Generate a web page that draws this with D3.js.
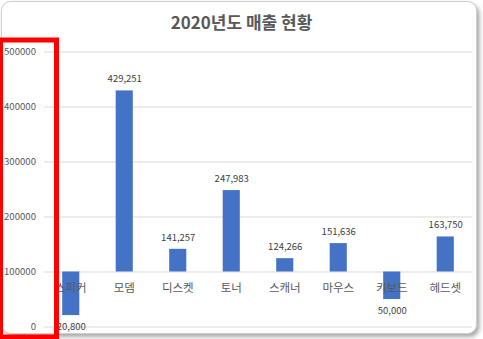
<!DOCTYPE html>
<html>
<head>
<meta charset="utf-8">
<script src="https://cdn.jsdelivr.net/npm/d3@7"></script>
<style>
  html, body { margin: 0; padding: 0; background: #ffffff; }
  svg { display: block; }
  text { font-family: "Malgun Gothic", "Noto Sans CJK KR", sans-serif; }
</style>
</head>
<body>
<svg id="chart" width="483" height="339"></svg>
<script>
// 2020 sales by product
const categories = ["스피커", "모뎀", "디스켓", "토너", "스캐너", "마우스", "키보드", "헤드셋"];
const sales = [20800, 429251, 141257, 247983, 124266, 151636, 50000, 163750];
const yTicks = [0, 100000, 200000, 300000, 400000, 500000];
const axisCross = 100000; // horizontal axis crosses the value axis here
const title = "2020년도 매출 현황";

const W = 483, H = 339;
const plot = { left: 44, right: 472, top: 51.5, bottom: 326.5 };

const svg = d3.select("#chart");

// card with soft shadow
const defs = svg.append("defs");
const f = defs.append("filter").attr("id", "shadow")
  .attr("x", "-5%").attr("y", "-5%").attr("width", "110%").attr("height", "110%");
f.append("feDropShadow").attr("dx", 2.5).attr("dy", 3).attr("stdDeviation", 2)
  .attr("flood-color", "#6e6e6e").attr("flood-opacity", 0.6);

svg.append("rect")
  .attr("x", 1.5).attr("y", 1.5).attr("width", 475).attr("height", 332)
  .attr("rx", 9).attr("ry", 9)
  .attr("fill", "#ffffff").attr("stroke", "#cfcfcf").attr("stroke-width", 1)
  .attr("filter", "url(#shadow)");

// scales
const x = d3.scaleBand()
  .domain(categories)
  .range([plot.left, plot.right])
  .paddingInner(0.68)
  .paddingOuter(0.34);

const y = d3.scaleLinear()
  .domain([0, 500000])
  .range([plot.bottom, plot.top]);

// value axis with gridlines
const yAxis = svg.append("g")
  .attr("transform", `translate(${plot.left},0)`)
  .call(d3.axisLeft(y)
    .tickValues(yTicks)
    .tickFormat(d3.format("d"))
    .tickSize(-(plot.right - plot.left))
    .tickPadding(8));
yAxis.select(".domain").remove();
yAxis.selectAll(".tick line").attr("stroke", "#d9d9d9").attr("stroke-width", 1);
yAxis.selectAll(".tick text")
  .attr("fill", "#595959")
  .style("font-size", "9.6px");

// bars grow from the crossing value
svg.append("g").selectAll("rect")
  .data(categories)
  .join("rect")
  .attr("x", (d) => x(d))
  .attr("width", x.bandwidth())
  .attr("y", (d, i) => Math.min(y(sales[i]), y(axisCross)))
  .attr("height", (d, i) => Math.abs(y(sales[i]) - y(axisCross)))
  .attr("fill", "#4472c4");

// category labels under the crossing line
svg.append("g").selectAll("text")
  .data(categories)
  .join("text")
  .attr("x", (d) => x(d) + x.bandwidth() / 2)
  .attr("y", y(axisCross) + 20)
  .attr("text-anchor", "middle")
  .attr("fill", "#595959")
  .style("font-size", "11.5px")
  .text((d) => d);

// data labels
const fmt = d3.format(",");
svg.append("g").selectAll("text")
  .data(categories)
  .join("text")
  .attr("x", (d) => x(d) + x.bandwidth() / 2 + 0.5)
  .attr("y", (d, i) => sales[i] >= axisCross ? y(sales[i]) - 8 : y(sales[i]) + 15)
  .attr("text-anchor", "middle")
  .attr("fill", "#404040")
  .style("font-size", "9.5px")
  .text((d, i) => fmt(sales[i]));

// title
svg.append("text")
  .attr("x", 241.5)
  .attr("y", 29)
  .attr("text-anchor", "middle")
  .attr("fill", "#595959")
  .style("font-size", "17px")
  .style("font-weight", "bold")
  .text(title);

// highlight box around the value axis labels
svg.append("rect")
  .attr("x", 0.5).attr("y", 40)
  .attr("width", 56).attr("height", 297)
  .attr("fill", "none")
  .attr("stroke", "#ff0000")
  .attr("stroke-width", 5);
</script>
</body>
</html>
